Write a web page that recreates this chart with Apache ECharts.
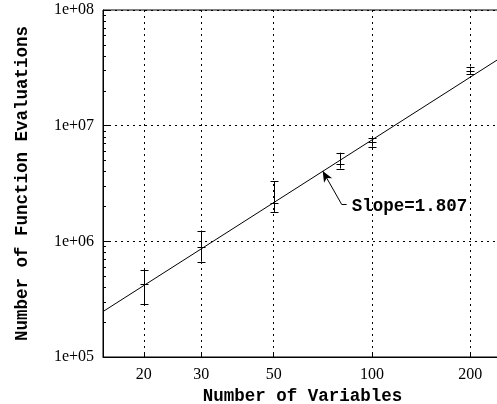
<!DOCTYPE html>
<html>
<head>
<meta charset="utf-8">
<script src="https://cdn.jsdelivr.net/npm/echarts@6/dist/echarts.min.js"></script>
<style>
  html, body { margin: 0; padding: 0; background: #fff; }
  #chart { width: 497px; height: 404px; }
</style>
</head>
<body>
<div id="chart"></div>
<script>
const variables = [20, 30, 50, 80, 100, 200];
const evalMean = [4.26e5, 8.88e5, 2.14e6, 4.67e6, 7.27e6, 2.99e7];
const evalLow = [2.86e5, 6.67e5, 1.79e6, 4.26e6, 6.58e6, 2.80e7];
const evalHigh = [5.65e5, 1.24e6, 3.32e6, 5.84e6, 7.87e6, 3.24e7];
const xTicks = [20, 30, 50, 100, 200];
// fitted line end points
const fitX = [15, 250];
const fitY = [2.47e5, 3.93e7];
const slopeText = 'Slope=1.807';

// annotation anchors (data space)
const arrowTip = [70.6, 4.06e6];
const arrowTail = [80.7, 2.09e6];
const hookEnd = [83.6, 2.09e6];

const lg = Math.log10;
const MONO = '"Liberation Mono", "DejaVu Sans Mono", monospace';
const SERIF = '"Liberation Serif", "DejaVu Serif", serif';

var minorY = [];
for (var e = 5; e < 8; e++) {
  for (var k = 2; k <= 9; k++) minorY.push(lg(k) + e);
}

function crisp(v) { return Math.round(v) + 0.5; }

function renderErrorBar(params, api) {
  var x = api.value(0);
  var c = api.coord([x, api.value(1)]);
  var lo = api.coord([x, api.value(2)]);
  var hi = api.coord([x, api.value(3)]);
  var px = crisp(c[0]);
  var w = 4;
  var style = { stroke: '#000', lineWidth: 1 };
  return {
    type: 'group',
    children: [
      { type: 'line', shape: { x1: px, y1: hi[1], x2: px, y2: lo[1] }, style: style },
      { type: 'line', shape: { x1: px - w, y1: crisp(hi[1]), x2: px + w, y2: crisp(hi[1]) }, style: style },
      { type: 'line', shape: { x1: px - w, y1: crisp(lo[1]), x2: px + w, y2: crisp(lo[1]) }, style: style },
      { type: 'line', shape: { x1: px - w, y1: crisp(c[1]), x2: px + w, y2: crisp(c[1]) }, style: style }
    ]
  };
}

const chart = echarts.init(document.getElementById('chart'));

const errData = variables.map(function (v, i) {
  return [lg(v), lg(evalMean[i]), lg(evalLow[i]), lg(evalHigh[i])];
});

const option = {
  animation: false,
  backgroundColor: '#fff',
  grid: {
    left: 103, top: 10, bottom: 47, right: -5,
    outerBoundsMode: 'none',
    containLabel: false,
    show: true, borderColor: '#000', borderWidth: 1
  },
  xAxis: {
    type: 'value',
    min: lg(15), max: lg(250),
    name: 'Number of Variables',
    nameLocation: 'middle',
    nameGap: 30,
    nameTextStyle: { fontFamily: MONO, fontWeight: 'bold', fontSize: 17.5, color: '#000' },
    axisLine: { show: true, onZero: false, lineStyle: { color: '#000' } },
    axisTick: { inside: true, length: 5, customValues: xTicks.map(lg), lineStyle: { color: '#000' } },
    axisLabel: {
      customValues: xTicks.map(lg),
      margin: 10,
      fontFamily: SERIF, fontSize: 16, color: '#000',
      formatter: function (v) { return String(Math.round(Math.pow(10, v))); }
    },
    splitLine: { show: true, lineStyle: { color: '#000', type: [2, 4], width: 1 } }
  },
  yAxis: [{
    type: 'value',
    min: 5, max: 8, interval: 1,
    name: 'Number of Function Evaluations',
    nameLocation: 'middle',
    nameGap: 71,
    nameRotate: 90,
    nameTextStyle: { fontFamily: MONO, fontWeight: 'bold', fontSize: 17.5, color: '#000' },
    axisLine: { show: true, onZero: false, lineStyle: { color: '#000' } },
    axisTick: { inside: true, length: 6, lineStyle: { color: '#000' } },
    axisLabel: {
      margin: 9,
      fontFamily: SERIF, fontSize: 16, color: '#000',
      formatter: function (v) { return '1e+0' + v; }
    },
    splitLine: { show: true, lineStyle: { color: '#000', type: [2, 4], width: 1 } }
  }, {
    type: 'value',
    min: 5, max: 8,
    position: 'left',
    axisLine: { show: false },
    axisTick: { show: true, inside: true, length: 3, customValues: minorY, lineStyle: { color: '#000' } },
    axisLabel: { show: false },
    splitLine: { show: false }
  }],
  series: [
    {
      type: 'line',
      data: fitX.map(function (x, i) { return [lg(x), lg(fitY[i])]; }),
      showSymbol: false,
      symbol: 'none',
      lineStyle: { color: '#000', width: 1 },
      silent: true,
      markLine: {
        silent: true,
        animation: false,
        lineStyle: { color: '#000', width: 1, type: 'solid' },
        label: { show: false },
        data: [
          [
            { coord: [lg(arrowTail[0]), lg(arrowTail[1])], symbol: 'none' },
            { coord: [lg(arrowTip[0]), lg(arrowTip[1])], symbol: 'arrow', symbolSize: [7, 11] }
          ],
          [
            { coord: [lg(arrowTail[0]), lg(arrowTail[1])], symbol: 'none' },
            { coord: [lg(hookEnd[0]), lg(hookEnd[1])], symbol: 'none' }
          ]
        ]
      },
      markPoint: {
        silent: true,
        symbol: 'circle',
        symbolSize: 0,
        data: [{
          coord: [lg(hookEnd[0]), lg(hookEnd[1])],
          label: {
            show: true,
            position: 'right',
            distance: 5,
            offset: [0, 2],
            formatter: slopeText,
            fontFamily: MONO, fontWeight: 'bold', fontSize: 17.5, color: '#000'
          }
        }]
      }
    },
    {
      type: 'custom',
      renderItem: renderErrorBar,
      encode: { x: 0, y: [1, 2, 3] },
      data: errData,
      silent: true
    }
  ]
};

chart.setOption(option);
</script>
</body>
</html>
